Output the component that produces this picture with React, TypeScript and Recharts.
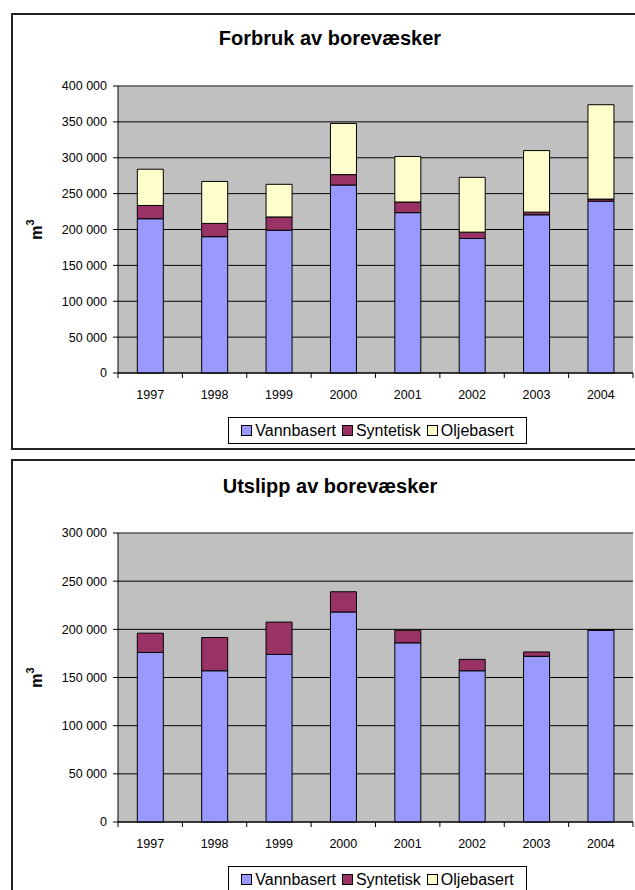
import React from "react";
import {
  BarChart,
  Bar,
  XAxis,
  YAxis,
  CartesianGrid,
  ReferenceLine,
} from "recharts";

const years = ["1997", "1998", "1999", "2000", "2001", "2002", "2003", "2004"];

// Forbruk (m3)
const forbrukVann = [215000, 190000, 199000, 262000, 223500, 187500, 220500, 239500];
const forbrukSynt = [18500, 18500, 18500, 14500, 14800, 8800, 3700, 2900];
const forbrukOlje = [50500, 58500, 45500, 71300, 63500, 76400, 85800, 131500];

// Utslipp (m3)
const utslippVann = [176000, 157000, 174000, 218000, 186000, 157000, 172000, 199000];
const utslippSynt = [20000, 34500, 33500, 21000, 13000, 11800, 4500, 400];
const utslippOlje = [0, 0, 0, 0, 0, 0, 0, 0];

const forbrukTicks = [0, 50000, 100000, 150000, 200000, 250000, 300000, 350000, 400000];
const utslippTicks = [0, 50000, 100000, 150000, 200000, 250000, 300000];

const seriesNames = ["Vannbasert", "Syntetisk", "Oljebasert"];
const seriesColors = ["#9999FF", "#993366", "#FFFFCC"];

const FONT = "'Liberation Sans', Arial, sans-serif";
const CHART_W = 660;
const Y_AXIS_W = 118;
const MARGIN_RIGHT = 27;
const BAND = (CHART_W - Y_AXIS_W - MARGIN_RIGHT) / years.length;

const fmt = (v: number) => String(v).replace(/\B(?=(\d{3})+(?!\d))/g, " ");

const buildRows = (vann: number[], synt: number[], olje: number[]) =>
  years.map((year, i) => ({ year, vann: vann[i], synt: synt[i], olje: olje[i] }));

// x tick: label under the category, tick marks between categories
const YearTick = (props: any) => {
  const { x, y, payload, index } = props;
  const left = x - BAND / 2;
  return (
    <g>
      <line x1={left} y1={y} x2={left} y2={y + 5} stroke="#000" />
      {index === years.length - 1 && (
        <line x1={x + BAND / 2} y1={y} x2={x + BAND / 2} y2={y + 5} stroke="#000" />
      )}
      <text
        x={x}
        y={y + 26}
        textAnchor="middle"
        fontSize={12.5}
        fontFamily={FONT}
        fill="#000"
      >
        {payload.value}
      </text>
    </g>
  );
};

const UnitLabel = (props: any) => {
  const { viewBox } = props;
  const cy = viewBox.y + viewBox.height / 2;
  const cx = 42;
  return (
    <text
      x={cx}
      y={cy}
      transform={`rotate(-90 ${cx} ${cy})`}
      textAnchor="middle"
      fontSize={16}
      fontWeight="bold"
      fontFamily={FONT}
      fill="#000"
    >
      m
      <tspan fontSize={11} dy={-8}>
        3
      </tspan>
    </text>
  );
};

const LegendBox = ({ left, top }: { left: number; top: number }) => (
  <div
    style={{
      position: "absolute",
      left,
      top,
      width: 297,
      height: 25,
      border: "1px solid #000",
      background: "#fff",
      display: "flex",
      alignItems: "center",
      justifyContent: "center",
      fontFamily: FONT,
      fontSize: 16,
      whiteSpace: "nowrap",
    }}
  >
    {seriesNames.map((name, i) => (
      <span key={name} style={{ display: "flex", alignItems: "center", marginRight: i < 2 ? 6 : 0 }}>
        <span
          style={{
            width: 9,
            height: 9,
            background: seriesColors[i],
            border: "1px solid #000",
            marginRight: 3,
            display: "inline-block",
          }}
        />
        {name}
      </span>
    ))}
  </div>
);

interface PanelProps {
  top: number;
  height: number;
  title: string;
  rows: any[];
  ticks: number[];
  plotTop: number;
  plotBottom: number;
  titleY: number;
  legendTop: number;
}

const Panel = ({ top, height, title, rows, ticks, plotTop, plotBottom, titleY, legendTop }: PanelProps) => {
  const max = ticks[ticks.length - 1];
  return (
    <div style={{ position: "absolute", left: 0, top, width: 635, height }}>
      <div
        style={{
          position: "absolute",
          left: 0,
          top: titleY - 12,
          width: 660,
          textAlign: "center",
          fontFamily: FONT,
          fontWeight: "bold",
          fontSize: 20,
          lineHeight: "24px",
        }}
      >
        {title}
      </div>
      <div style={{ position: "absolute", left: 0, top: 0 }}>
        <BarChart
          width={CHART_W}
          height={height}
          data={rows}
          margin={{ top: plotTop, right: MARGIN_RIGHT, left: 0, bottom: height - plotBottom - 30 }}
          barCategoryGap="30%"
        >
          <CartesianGrid vertical={false} stroke="#000" fill="#C0C0C0" fillOpacity={1} />
          <XAxis
            dataKey="year"
            height={30}
            tickLine={false}
            tickSize={0}
            tickMargin={0}
            axisLine={{ stroke: "#000" }}
            tick={<YearTick />}
            interval={0}
          />
          <YAxis
            width={Y_AXIS_W}
            domain={[0, max]}
            ticks={ticks}
            tickFormatter={fmt}
            tickSize={5}
            tickMargin={6}
            tickLine={{ stroke: "#000" }}
            axisLine={{ stroke: "#000" }}
            tick={{ fill: "#000", fontSize: 12.5, fontFamily: FONT }}
            interval={0}
            label={<UnitLabel />}
          />
          <ReferenceLine y={max} stroke="#808080" />
          <Bar dataKey="vann" stackId="a" fill={seriesColors[0]} stroke="#000" strokeWidth={1} isAnimationActive={false} />
          <Bar dataKey="synt" stackId="a" fill={seriesColors[1]} stroke="#000" strokeWidth={1} isAnimationActive={false} />
          <Bar dataKey="olje" stackId="a" fill={seriesColors[2]} stroke="#000" strokeWidth={1} isAnimationActive={false} />
        </BarChart>
      </div>
      <LegendBox left={228} top={legendTop} />
    </div>
  );
};

export default function App() {
  const forbrukRows = buildRows(forbrukVann, forbrukSynt, forbrukOlje);
  const utslippRows = buildRows(utslippVann, utslippSynt, utslippOlje);
  return (
    <div
      style={{
        position: "absolute",
        left: 0,
        top: 0,
        width: 635,
        height: 890,
        overflow: "hidden",
        background: "#fff",
      }}
    >
      <div
        style={{
          position: "absolute",
          left: 11,
          top: 13,
          width: 660,
          height: 433,
          border: "2px solid #222",
        }}
      />
      <div
        style={{
          position: "absolute",
          left: 11,
          top: 459,
          width: 660,
          height: 500,
          border: "2px solid #222",
        }}
      />
      <Panel
        top={0}
        height={448}
        title="Forbruk av borevæsker"
        rows={forbrukRows}
        ticks={forbrukTicks}
        plotTop={86}
        plotBottom={373}
        titleY={38}
        legendTop={417}
      />
      <Panel
        top={448}
        height={442}
        title="Utslipp av borevæsker"
        rows={utslippRows}
        ticks={utslippTicks}
        plotTop={85}
        plotBottom={374}
        titleY={38}
        legendTop={418}
      />
    </div>
  );
}
